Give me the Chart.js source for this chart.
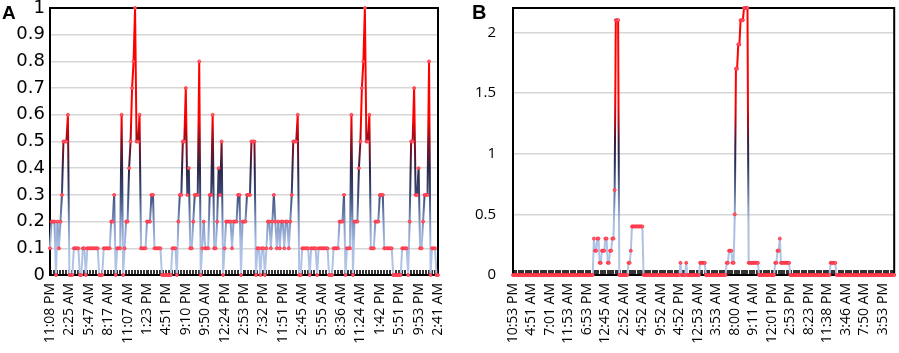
<!DOCTYPE html>
<html>
<head>
<meta charset="utf-8">
<script src="https://cdn.jsdelivr.net/npm/chart.js@4.4.1/dist/chart.umd.min.js"></script>
<style>
  html, body { margin: 0; padding: 0; background: #fff; }
  #wrap { position: relative; width: 899px; height: 353px; overflow: hidden; }
  .panel { position: absolute; top: 0; height: 353px; }
  #pa { left: 0; width: 452px; }
  #pb { left: 452px; width: 447px; }
  .tag { position: absolute; font-family: "Liberation Sans", Arial, sans-serif; font-weight: bold; line-height: 1; color: #000; }
</style>
</head>
<body>
<div id="wrap">
  <div class="panel" id="pa"><canvas id="chartA"></canvas></div>
  <div class="panel" id="pb"><canvas id="chartB"></canvas></div>
  <div class="tag" style="left:2px; top:3px; font-size:19px;">A</div>
  <div class="tag" style="left:472px; top:2px; font-size:20px;">B</div>
</div>
<script>
// Panel A: una fila = un intervalo entre etiquetas (13 puntos)
const valuesA = [
  0.1,0.2,0.2,0.2,0,0.2,0.1,0.2,0.3,0.5,0.5,0.5,0.6,
  0,0,0,0.1,0.1,0.1,0.1,0,0,0.1,0.1,0,0.1,
  0.1,0.1,0.1,0.1,0.1,0.1,0.1,0,0,0,0.1,0.1,0.1,
  0.1,0.1,0.2,0.2,0.3,0,0.1,0.1,0.1,0.6,0,0.1,0.2,
  0.2,0.4,0.5,0.7,0.8,1.0,0.5,0.5,0.6,0.1,0.1,0.1,0.1,
  0.2,0.2,0.2,0.3,0.3,0.1,0.1,0.1,0.1,0.1,0,0,0,
  0,0,0,0,0.1,0.1,0.1,0,0.2,0.3,0.3,0.5,0.5,
  0.7,0.3,0.4,0.1,0.1,0.2,0.3,0.3,0.3,0.8,0,0.1,0.2,
  0.1,0.1,0.1,0.3,0.3,0.6,0.1,0.1,0.2,0.4,0.3,0.5,0,
  0.1,0.2,0.2,0.2,0.2,0.1,0.2,0.2,0.2,0.3,0.3,0,0.2,
  0.2,0.2,0.3,0.3,0.3,0.5,0.5,0.5,0,0.1,0.1,0,0.1,
  0.1,0,0.1,0.2,0.2,0.1,0.2,0.3,0.2,0.1,0.2,0.1,0.2,
  0.2,0.1,0.2,0.2,0.1,0.2,0.3,0.5,0.5,0.5,0.6,0,0,
  0.1,0.1,0.1,0.1,0.1,0,0.1,0.1,0.1,0.1,0,0.1,0.1,
  0.1,0.1,0.1,0.1,0.1,0,0,0,0.1,0.1,0.1,0.1,0.2,
  0.2,0.2,0.3,0,0.1,0.1,0.1,0.6,0,0.2,0.2,0.2,0.4,
  0.5,0.7,0.8,1.0,0.5,0.5,0.6,0.1,0.1,0.1,0.2,0.2,0.2,
  0.3,0.3,0.3,0.1,0.1,0.1,0.1,0.1,0.1,0,0,0,0,
  0,0,0.1,0.1,0.1,0.1,0,0.2,0.5,0.5,0.7,0.3,0.3,
  0.4,0.1,0.1,0.2,0.3,0.3,0.3,0.8,0,0.1,0.1,0.1,0,
  0
];

// Panel B: una fila = 16 puntos
const valuesB = [
  0,0,0,0,0,0,0,0,0,0,0,0,0,0,0,0,
  0,0,0,0,0,0,0,0,0,0,0,0,0,0,0,0,
  0,0,0,0,0,0,0,0,0,0,0,0,0,0,0,0,
  0,0,0,0,0,0,0,0,0,0,0,0,0,0,0,0,
  0,0,0,0,0,0,0.3,0.2,0.2,0.3,0.3,0.1,0.1,0.2,0.2,0.2,
  0.3,0.3,0.1,0.1,0.2,0.2,0.3,0.3,0.7,2.1,2.1,2.1,0,0,0,0,
  0,0,0,0,0.1,0.1,0.2,0.4,0.4,0.4,0.4,0.4,0.4,0.4,0.4,0.4,
  0.4,0,0,0,0,0,0,0,0,0,0,0,0,0,0,0,
  0,0,0,0,0,0,0,0,0,0,0,0,0,0,0,0,
  0,0.1,0,0,0,0,0.1,0,0,0,0,0,0,0,0,0,
  0,0,0.1,0.1,0.1,0.1,0.1,0,0,0,0,0,0,0,0,0,
  0,0,0,0,0,0,0,0,0,0.1,0.1,0.2,0.2,0.2,0.1,0.1,
  0.5,1.7,1.7,1.9,1.9,2.1,2.1,2.1,2.2,2.2,2.2,2.2,0.1,0.1,0.1,0.1,
  0.1,0.1,0.1,0.1,0.1,0,0,0,0,0,0,0,0,0,0,0,
  0,0,0,0.1,0.1,0.2,0.2,0.3,0.1,0.1,0.1,0.1,0.1,0.1,0.1,0.1,
  0,0,0,0,0,0,0,0,0,0,0,0,0,0,0,0,
  0,0,0,0,0,0,0,0,0,0,0,0,0,0,0,0,
  0,0,0,0.1,0.1,0.1,0.1,0.1,0,0,0,0,0,0,0,0,
  0,0,0,0,0,0,0,0,0,0,0,0,0,0,0,0,
  0,0,0,0,0,0,0,0,0,0,0,0,0,0,0,0,
  0,0,0,0,0,0,0,0,0,0,0
];

const tickLabelsA = ['11:08 PM','2:25 AM','5:47 AM','8:17 AM','11:07 AM','1:23 PM','4:51 PM','9:10 PM','9:50 AM','12:24 PM','2:53 PM','7:32 PM','11:51 PM','2:45 AM','5:55 AM','8:36 AM','11:24 AM','1:42 PM','5:51 PM','9:53 PM','2:41 AM'];
const tickLabelsB = ['10:53 PM','4:51 AM','7:01 AM','11:53 AM','6:53 PM','12:45 AM','2:52 AM','4:52 AM','9:52 AM','4:52 PM','12:53 AM','3:53 AM','8:00 AM','9:11 AM','12:01 PM','2:53 PM','8:23 PM','11:38 PM','3:46 AM','7:50 AM','3:53 PM'];
const labelStepA = 13;
const labelStepB = 16;

// colores del degradado (fracción de altura del área)
const stopsA = [[0,'#b4c7e7'],[0.12,'#a9bde2'],[0.2,'#7d92bf'],[0.3,'#3b4c78'],[0.4,'#2c2448'],[0.5,'#8e0c1c'],[0.58,'#ff0000'],[1,'#ff0000']];
const stopsB = [[0,'#b4c7e7'],[0.2,'#a9bde2'],[0.32,'#5a6d99'],[0.42,'#27305a'],[0.5,'#3a1d40'],[0.58,'#c20010'],[0.66,'#ff0000'],[1,'#ff0000']];

function lineGradient(stops) {
  return function (context) {
    const chart = context.chart;
    const area = chart.chartArea;
    if (!area) return stops[0][1];
    const g = chart.ctx.createLinearGradient(0, area.bottom, 0, area.top);
    stops.forEach(s => g.addColorStop(s[0], s[1]));
    return g;
  };
}

// marcas de categoría hacia dentro + marco del área
const frameTicks = {
  id: 'frameTicks',
  beforeDatasetsDraw(chart) {
    const { ctx, chartArea: a, scales: { x } } = chart;
    ctx.save();
    ctx.strokeStyle = '#333';
    ctx.lineWidth = 1;
    ctx.beginPath();
    for (let i = 0; i < x.ticks.length; i++) {
      const px = Math.round(x.getPixelForTick(i)) + 0.5;
      ctx.moveTo(px, a.bottom);
      ctx.lineTo(px, a.bottom - 5);
    }
    ctx.stroke();
    ctx.strokeStyle = '#000';
    ctx.lineWidth = 2;
    ctx.strokeRect(a.left, a.top, a.right - a.left, a.bottom - a.top);
    ctx.restore();
  }
};

function makeChart(id, values, tickLabels, step, stops, yOpts, yFont, yWidth, yPad, padRight) {
  const categories = values.map((_, i) => String(i));
  return new Chart(document.getElementById(id), {
    type: 'line',
    data: {
      labels: categories,
      datasets: [{
        data: values,
        borderColor: lineGradient(stops),
        borderWidth: 2,
        tension: 0,
        pointRadius: 1.5,
        pointBackgroundColor: '#ff6070',
        pointBorderColor: '#ff2b3d',
        pointBorderWidth: 0.8,
        clip: 4
      }]
    },
    options: {
      responsive: true,
      maintainAspectRatio: false,
      animation: false,
      layout: { padding: { top: 8, right: padRight, bottom: 0, left: 0 } },
      plugins: { legend: { display: false }, tooltip: { enabled: false } },
      scales: {
        x: {
          afterFit: s => { s.height = 78; s.paddingLeft = 0; s.paddingRight = 0; },
          grid: { display: false, drawTicks: false },
          border: { display: true, color: '#000', width: 2 },
          ticks: {
            autoSkip: false,
            minRotation: 90,
            maxRotation: 90,
            padding: 8,
            color: '#000',
            font: { family: '"Open Sans", sans-serif', size: 14 },
            callback: (v, i) => (i % step === 0 ? tickLabels[i / step] : '')
          }
        },
        y: {
          min: yOpts.min,
          max: yOpts.max,
          afterFit: s => { s.width = yWidth; s.paddingTop = 0; s.paddingBottom = 0; },
          grid: { color: '#d6d6d6', lineWidth: 1.5, drawTicks: false },
          border: { display: true, color: '#000', width: 2 },
          ticks: Object.assign({
            padding: yPad,
            color: '#000',
            font: yFont,
            callback: v => String(Number(v.toFixed(1)))
          }, yOpts.ticks)
        }
      }
    },
    plugins: [frameTicks]
  });
}

makeChart('chartA', valuesA, tickLabelsA, labelStepA, stopsA,
  { min: 0, max: 1, ticks: { stepSize: 0.1 } },
  { family: '"DejaVu Sans", sans-serif', size: 18, lineHeight: 1 }, 50, 5, 14);

makeChart('chartB', valuesB, tickLabelsB, labelStepB, stopsB,
  { min: 0, max: 2.2, ticks: { stepSize: 0.5, includeBounds: false } },
  { family: '"Open Sans", sans-serif', size: 15, lineHeight: 1 }, 61, 17, 2);
</script>
</body>
</html>
